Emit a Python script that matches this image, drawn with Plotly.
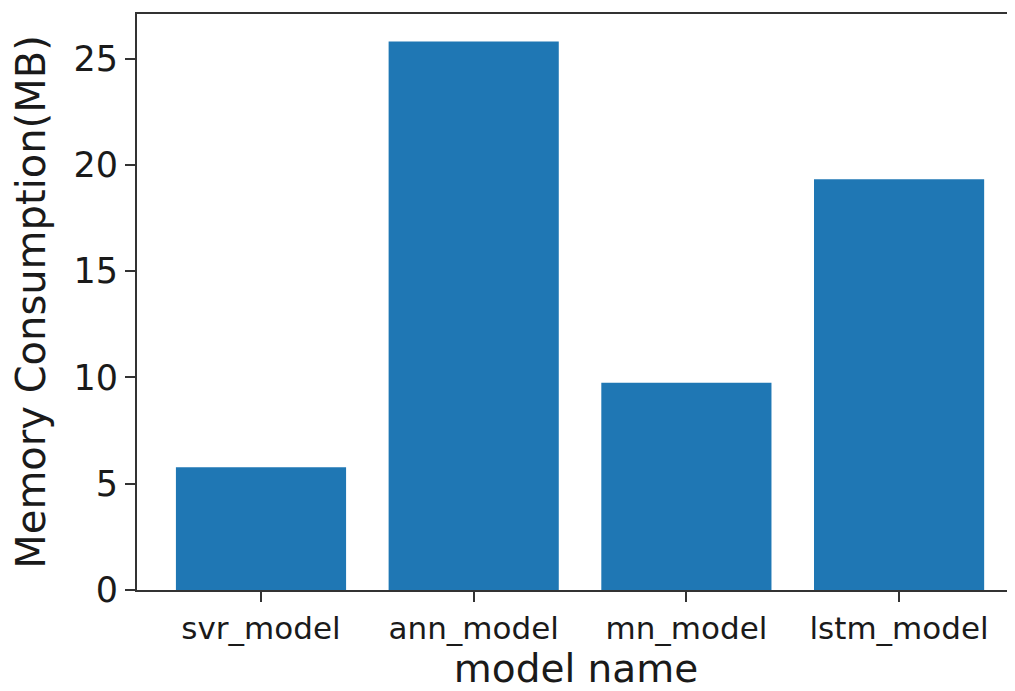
import plotly.graph_objects as go

models = ["svr_model", "ann_model", "mn_model", "lstm_model"]
memory_mb = [5.77, 25.81, 9.75, 19.32]
y_ticks = [0, 5, 10, 15, 20, 25]

fig = go.Figure()
fig.add_trace(go.Bar(
    x=list(range(len(models))),
    y=memory_mb,
    width=0.8,
    marker=dict(color="#1f77b4", line=dict(width=0)),
))

font_family = "DejaVu Sans"
text_color = "#1a1a1a"

# page body has an 8px margin, so the figure is sized/offset to compensate
fig.update_layout(
    width=1007,
    height=683,
    margin=dict(l=129, r=0, t=6, b=101),
    paper_bgcolor="white",
    plot_bgcolor="white",
    showlegend=False,
    font=dict(family=font_family, color=text_color),
    xaxis=dict(
        range=[-0.583, 3.545],
        tickmode="array",
        tickvals=list(range(len(models))),
        ticktext=models,
        tickfont=dict(size=31, family=font_family, color=text_color),
        ticks="outside",
        ticklen=10,
        tickwidth=2,
        tickcolor="#333333",
        showline=True,
        linecolor="#333333",
        linewidth=2,
        mirror=True,
        showgrid=False,
        zeroline=False,
        title=dict(text="model name", font=dict(size=39, family=font_family, color=text_color), standoff=2),
    ),
    yaxis=dict(
        range=[0, 27.1],
        tickmode="array",
        tickvals=y_ticks,
        ticktext=[str(v) for v in y_ticks],
        tickfont=dict(size=35, family=font_family, color=text_color),
        ticks="outside",
        ticklen=10,
        tickwidth=2,
        tickcolor="#333333",
        showline=True,
        linecolor="#333333",
        linewidth=2,
        mirror=False,
        showgrid=False,
        zeroline=False,
        title=dict(text="Memory Consumption(MB)", font=dict(size=40, family=font_family, color=text_color), standoff=16),
    ),
)

fig.write_html("out.html")
